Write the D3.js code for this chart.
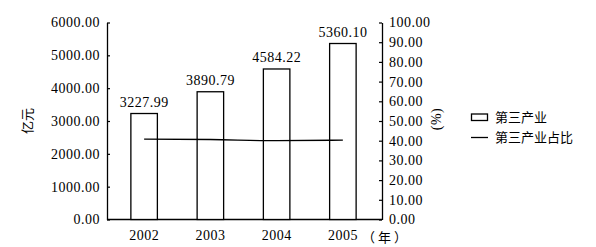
<!DOCTYPE html>
<html>
<head>
<meta charset="utf-8">
<script src="https://cdn.jsdelivr.net/npm/d3@7"></script>
<style>
  body { margin: 0; background: #fff; }
  svg text { fill: #000; }
  .num { font-family: "Liberation Serif", "DejaVu Serif", serif; font-size: 14px; letter-spacing: 0.5px; }
  .cjk { font-family: "Noto Sans CJK SC", sans-serif; font-size: 13px; }
</style>
</head>
<body>
<div id="chart"></div>
<script>
// data
const years = ['2002', '2003', '2004', '2005']
const tertiary = [3227.99, 3890.79, 4584.22, 5360.10]   // 亿元
const share = [40.8, 40.6, 40.0, 40.3]                   // %

const width = 596
const height = 247
const svg = d3.select('#chart').append('svg')
  .attr('width', width)
  .attr('height', height)

// plot box
const plotLeft = 107, plotRight = 382, plotTop = 22.5, plotBottom = 219.5

const x = d3.scaleBand()
  .domain(years)
  .range([111, 376])
  .paddingInner(0.6)
  .paddingOuter(0.3)
const y = d3.scaleLinear().domain([0, 6000]).range([plotBottom, plotTop])
const y2 = d3.scaleLinear().domain([0, 100]).range([plotBottom, plotTop])

// left axis
const yAxis = d3.axisLeft(y).tickValues(d3.range(0, 6001, 1000))
  .tickFormat(d3.format('.2f')).tickSizeInner(-3).tickSizeOuter(0).tickPadding(7)
const gl = svg.append('g').attr('transform', `translate(${plotLeft},0)`).call(yAxis)

// right axis
const y2Axis = d3.axisRight(y2).tickValues(d3.range(0, 101, 10))
  .tickFormat(d3.format('.2f')).tickSizeInner(-3).tickSizeOuter(0).tickPadding(7)
const gr = svg.append('g').attr('transform', `translate(${plotRight},0)`).call(y2Axis)

for (const g of [gl, gr]) {
  g.attr('font-family', null).attr('font-size', null)
  g.select('.domain').attr('stroke', '#000').attr('stroke-width', 1.3)
  g.selectAll('.tick line').attr('stroke', '#000').attr('stroke-width', 1.2)
  g.selectAll('.tick text').attr('class', 'num')
}

// x axis baseline
svg.append('line')
  .attr('x1', plotLeft).attr('x2', plotRight)
  .attr('y1', plotBottom).attr('y2', plotBottom)
  .attr('stroke', '#000').attr('stroke-width', 1.3)

// x labels
svg.append('g').selectAll('text')
  .data(years)
  .join('text')
  .attr('class', 'num')
  .attr('x', d => x(d) + x.bandwidth() / 2)
  .attr('y', 240)
  .attr('text-anchor', 'middle')
  .text(d => d)

svg.append('text')
  .attr('class', 'cjk')
  .attr('x', 362)
  .attr('y', 242)
  .attr('font-size', '12px')
  .attr('letter-spacing', '3px')
  .text('（年）')

// bars
svg.append('g').selectAll('rect')
  .data(tertiary)
  .join('rect')
  .attr('x', (d, i) => x(years[i]))
  .attr('y', d => y(d))
  .attr('width', x.bandwidth())
  .attr('height', d => plotBottom - y(d))
  .attr('fill', '#fff')
  .attr('stroke', '#000')
  .attr('stroke-width', 1.3)

// bar value labels
svg.append('g').selectAll('text')
  .data(tertiary)
  .join('text')
  .attr('class', 'num')
  .attr('x', (d, i) => x(years[i]) + x.bandwidth() / 2)
  .attr('y', d => y(d) - 7)
  .attr('text-anchor', 'middle')
  .text(d => d.toFixed(2))

// share line
const line = d3.line()
  .x((d, i) => x(years[i]) + x.bandwidth() / 2)
  .y(d => y2(d))
  .curve(d3.curveMonotoneX)
svg.append('path')
  .datum(share)
  .attr('d', line)
  .attr('fill', 'none')
  .attr('stroke', '#000')
  .attr('stroke-width', 1.3)

// axis titles
svg.append('text')
  .attr('class', 'cjk')
  .attr('transform', 'translate(32,121) rotate(-90)')
  .attr('text-anchor', 'middle')
  .attr('font-size', '14px')
  .text('亿元')
svg.append('text')
  .attr('class', 'num')
  .attr('transform', 'translate(441,119) rotate(-90)')
  .attr('text-anchor', 'middle')
  .attr('letter-spacing', 0)
  .text('(%)')

// legend
const lg = svg.append('g').attr('transform', 'translate(471,0)')
lg.append('rect')
  .attr('x', 0.5).attr('y', 114)
  .attr('width', 16).attr('height', 6.5)
  .attr('fill', '#fff').attr('stroke', '#000').attr('stroke-width', 1.3)
lg.append('text')
  .attr('class', 'cjk').attr('font-size', '14px')
  .attr('x', 24).attr('y', 122)
  .text('第三产业')
lg.append('line')
  .attr('x1', 0).attr('x2', 17)
  .attr('y1', 137.5).attr('y2', 137.5)
  .attr('stroke', '#000').attr('stroke-width', 1.3)
lg.append('text')
  .attr('class', 'cjk').attr('font-size', '14px')
  .attr('x', 24).attr('y', 142)
  .text('第三产业占比')
</script>
</body>
</html>
